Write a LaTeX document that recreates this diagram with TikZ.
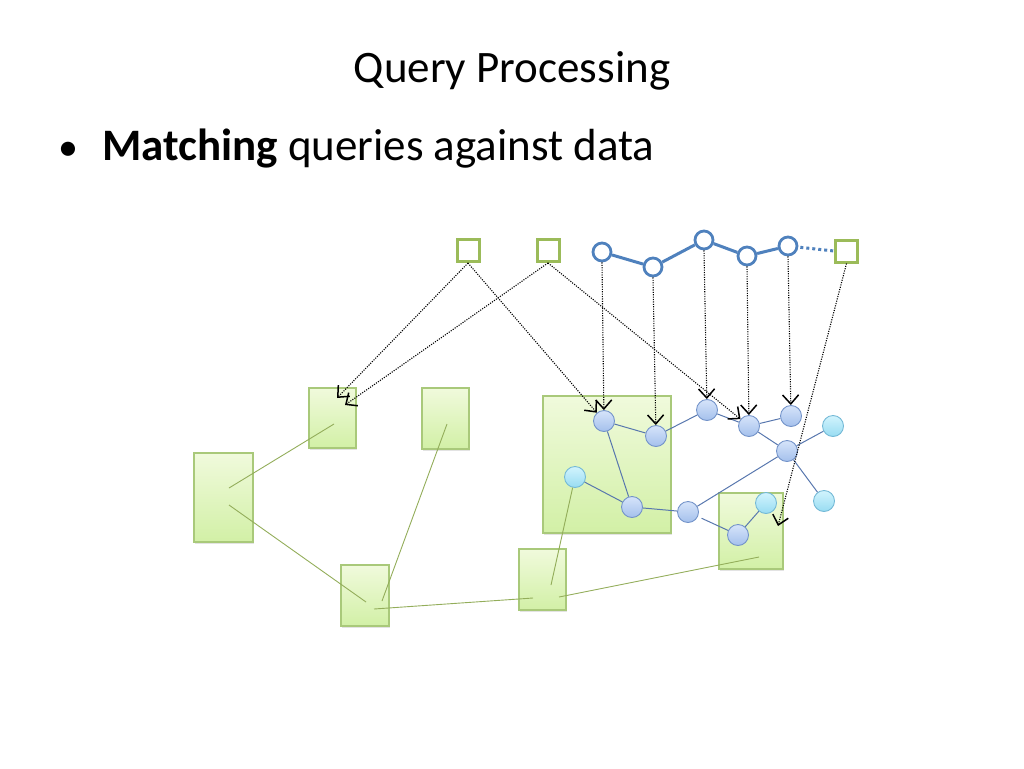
\documentclass[tikz,border=0pt]{standalone}
\usepackage{fontspec}
\setmainfont{Carlito}
\usetikzlibrary{arrows.meta,shadows}
\definecolor{gborder}{HTML}{A9C97A}
\definecolor{gtop}{HTML}{F0FADC}
\definecolor{gbot}{HTML}{D2F0A6}
\definecolor{gline}{HTML}{93AD5A}
\definecolor{qgreen}{HTML}{9BBB59}
\definecolor{qblue}{HTML}{4F81BD}
\definecolor{btop}{HTML}{D6E4FA}
\definecolor{bbot}{HTML}{A4C0EC}
\definecolor{bborder}{HTML}{7393C9}
\definecolor{ctop}{HTML}{D2F4FD}
\definecolor{cbot}{HTML}{98DCF2}
\definecolor{cborder}{HTML}{74B9D6}
\definecolor{dedge}{HTML}{5877AE}
\tikzset{
  gbox/.style={draw=gborder, line width=1.2pt, top color=gtop, bottom color=gbot,
    inner sep=0pt, drop shadow={opacity=0.22, shadow xshift=1pt, shadow yshift=-1.6pt}},
  qsq/.style={draw=qgreen, line width=3pt, fill=white, minimum size=22pt, inner sep=0pt},
  qci/.style={circle, draw=qblue, line width=2.8pt, fill=white, minimum size=18pt, inner sep=0pt},
  bnode/.style={circle, draw=bborder, line width=0.9pt, top color=btop, bottom color=bbot,
    minimum size=21pt, inner sep=0pt},
  cnode/.style={circle, draw=cborder, line width=0.9pt, top color=ctop, bottom color=cbot,
    minimum size=21pt, inner sep=0pt},
  dline/.style={draw=dedge, line width=1pt},
  gl/.style={draw=gline, line width=0.9pt},
  qline/.style={draw=qblue, line width=3pt},
  marrow/.style={black, line width=1.1pt, dash pattern=on 1.1pt off 1.3pt,
    -{Straight Barb[length=9pt,width=16pt,line width=1.5pt]}},
}
\begin{document}
\begin{tikzpicture}[x=1pt,y=-1pt]
\useasboundingbox (0,0) rectangle (1024,768);
% texts
\node[anchor=base, inner sep=0pt] (title) at (512,82) {\fontsize{45}{54}\selectfont Query Processing};
\node[anchor=base west, inner sep=0pt] (bul) at (58,160) {\fontsize{40}{50}\selectfont •};
\node[anchor=base west, inner sep=0pt] (btext) at (102,160) {\fontsize{45}{54}\selectfont \textbf{Matching} queries against data};

% green boxes
\node[gbox, minimum width=59pt, minimum height=89pt] (g1) at (223.5,497.5) {};
\node[gbox, minimum width=47pt, minimum height=60pt] (g2) at (332.5,418) {};
\node[gbox, minimum width=47pt, minimum height=61pt] (g3) at (445.5,418.5) {};
\node[gbox, minimum width=48pt, minimum height=61pt] (g4) at (365,595.5) {};
\node[gbox, minimum width=47pt, minimum height=61pt] (g5) at (542.5,579.5) {};
\node[gbox, minimum width=128pt, minimum height=137pt] (g6) at (607,464.5) {};
\node[gbox, minimum width=64pt, minimum height=76pt] (g7) at (751,531) {};

% green line end points
\coordinate (g1a) at (229,488);
\coordinate (g1b) at (229,505);
\coordinate (g2a) at (334,424);
\coordinate (g3a) at (447,424);
\coordinate (g4a) at (366,602);
\coordinate (g4b) at (382,601);
\coordinate (g4c) at (374,609);
\coordinate (g5a) at (533,598);
\coordinate (g5b) at (551,585);
\coordinate (g5c) at (559,597);
\coordinate (g7a) at (759,557);

% data nodes
\node[bnode] (d1) at (604,421) {};
\node[bnode] (d2) at (656,436) {};
\node[bnode] (d3) at (707,410) {};
\node[bnode] (d4) at (749,426) {};
\node[bnode] (d5) at (791,416) {};
\node[cnode] (d6) at (833,426) {};
\node[bnode] (d7) at (787,451) {};
\node[cnode] (d8) at (824,501) {};
\node[cnode] (d9) at (575,477) {};
\node[bnode] (d10) at (632,507) {};
\node[bnode] (d11) at (688,512) {};
\node[cnode] (d12) at (766,503) {};
\node[bnode] (d13) at (738,535) {};

% green lines
\draw[gl] (g1a) -- (g2a);
\draw[gl] (g1b) -- (g4a);
\draw[gl] (g3a) -- (g4b);
\draw[gl] (g4c) -- (g5a);
\draw[gl] (g5b) -- (d9);
\draw[gl] (g5c) -- (g7a);

% data edges
\draw[dline] (d1) -- (d2);
\draw[dline] (d2) -- (d3);
\draw[dline] (d3) -- (d4);
\draw[dline] (d4) -- (d5);
\draw[dline] (d1) -- (d10);
\draw[dline] (d9) -- (d10);
\draw[dline] (d10) -- (d11);
\draw[dline] (d11) -- (d7);
\draw[dline] (d4) -- (d7);
\draw[dline] (d7) -- (d6);
\draw[dline] (d7) -- (d8);
\draw[dline] (d13) -- (d12);
\draw[dline, shorten <=4pt] (d11) -- (d13);

% query
\node[qsq] (q1) at (468,250.5) {};
\node[qsq] (q2) at (548,250.5) {};
\node[qci] (c1) at (602,252) {};
\node[qci] (c2) at (653,267) {};
\node[qci] (c3) at (704,240) {};
\node[qci] (c4) at (747,256) {};
\node[qci] (c5) at (788,246) {};
\node[qsq] (q3) at (846.5,251) {};
\draw[qline] (c1) -- (c2);
\draw[qline] (c2) -- (c3);
\draw[qline] (c3) -- (c4);
\draw[qline] (c4) -- (c5);
\draw[qblue, line width=3pt, dash pattern=on 3pt off 3pt, shorten <=2pt] (c5) -- (q3.west);

% mapping arrows
\coordinate (t1) at (337,398);
\coordinate (t2) at (345,405);
\coordinate (t3) at (778,526);
\draw[marrow] (q1.south) -- (t1);
\draw[marrow] (q2.south) -- (t2);
\draw[marrow] (q1.south) -- (d1);
\draw[marrow] (q2.south) -- (d4);
\draw[marrow] (c1.south) -- (d1);
\draw[marrow] (c2.south) -- (d2);
\draw[marrow] (c3.south) -- (d3);
\draw[marrow] (c4.south) -- (d4);
\draw[marrow] (c5.south) -- (d5);
\draw[marrow] (q3.south) -- (t3);
\end{tikzpicture}
\end{document}
